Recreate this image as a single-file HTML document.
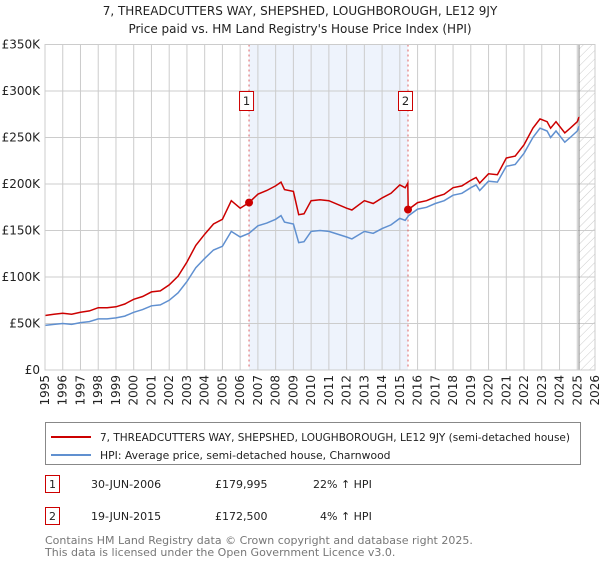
<!DOCTYPE html>
<html><head><meta charset="utf-8"><style>
body{margin:0;background:#fff;font-family:"Liberation Sans","DejaVu Sans",sans-serif;}
svg text{font-family:"DejaVu Sans","Liberation Sans",sans-serif;}
</style></head><body>
<svg id="chart" width="600" height="560" xmlns="http://www.w3.org/2000/svg">
<defs><pattern id="hatch" width="6" height="6" patternUnits="userSpaceOnUse" patternTransform="rotate(45)"><line x1="0" y1="0" x2="0" y2="6" stroke="#ccc" stroke-width="1"/></pattern></defs>
<text x="300" y="15" text-anchor="middle" font-size="12" fill="#222">7, THREADCUTTERS WAY, SHEPSHED, LOUGHBOROUGH, LE12 9JY</text>
<text x="300" y="33" text-anchor="middle" font-size="12" fill="#222">Price paid vs. HM Land Registry's House Price Index (HPI)</text>
<g id="plot"></g>
<g>
<rect x="45.5" y="422.5" width="535" height="42" fill="#fff" stroke="#888"/>
<line x1="51" y1="437" x2="91" y2="437" stroke="#cc0000" stroke-width="2"/>
<text x="100" y="441" font-size="10.8" fill="#222" textLength="470" lengthAdjust="spacingAndGlyphs">7, THREADCUTTERS WAY, SHEPSHED, LOUGHBOROUGH, LE12 9JY (semi-detached house)</text>
<line x1="51" y1="455" x2="91" y2="455" stroke="#6090d0" stroke-width="2"/>
<text x="100" y="459" font-size="10.8" fill="#222">HPI: Average price, semi-detached house, Charnwood</text>
</g>
<g font-size="11" fill="#222">
<rect x="45.5" y="475.5" width="14" height="17" fill="#fff" stroke="#cc0000"/>
<text x="52.5" y="488" text-anchor="middle">1</text>
<text x="91" y="488">30-JUN-2006</text><text x="215" y="488">£179,995</text><text x="313" y="488">22% ↑ HPI</text>
<rect x="45.5" y="507.5" width="14" height="17" fill="#fff" stroke="#cc0000"/>
<text x="52.5" y="520" text-anchor="middle">2</text>
<text x="91" y="520">19-JUN-2015</text><text x="215" y="520">£172,500</text><text x="320" y="520">4% ↑ HPI</text>
</g>
<text x="45" y="544" font-size="11" fill="#777">Contains HM Land Registry data © Crown copyright and database right 2025.</text>
<text x="45" y="556" font-size="11" fill="#777">This data is licensed under the Open Government Licence v3.0.</text>
</svg>
<script>
const hpiYears=[1995,1995.5,1996,1996.5,1997,1997.5,1998,1998.5,1999,1999.5,2000,2000.5,2001,2001.5,2002,2002.5,2003,2003.5,2004,2004.5,2005,2005.5,2006,2006.5,2007,2007.5,2008,2008.3,2008.5,2009,2009.3,2009.6,2010,2010.5,2011,2012,2012.3,2013,2013.5,2014,2014.5,2015,2015.3,2015.5,2016,2016.5,2017,2017.5,2018,2018.5,2019,2019.3,2019.5,2020,2020.5,2021,2021.5,2022,2022.5,2022.9,2023.3,2023.5,2023.8,2024.3,2024.6,2025,2025.1];
const hpiValues=[48,49,50,49,51,52,55,55,56,58,62,65,69,70,75,83,95,110,120,129,133,149,143,147,155,158,162,166,159,157,137,138,149,150,149,143,141,149,147,152,156,163,161,166,173,175,179,182,188,190,196,199,193,203,202,219,221,233,250,260,257,250,257,245,250,257,262];
const redYears=[1995,1995.5,1996,1996.5,1997,1997.5,1998,1998.5,1999,1999.5,2000,2000.5,2001,2001.5,2002,2002.5,2003,2003.5,2004,2004.5,2005,2005.5,2006,2006.5,2007,2007.5,2008,2008.3,2008.5,2009,2009.3,2009.6,2010,2010.5,2011,2012,2012.3,2013,2013.5,2014,2014.5,2015,2015.3,2015.45,2015.47,2016,2016.5,2017,2017.5,2018,2018.5,2019,2019.3,2019.5,2020,2020.5,2021,2021.5,2022,2022.5,2022.9,2023.3,2023.5,2023.8,2024.3,2024.6,2025,2025.1];
const redValues=[58.6,60,61,60,62,63.5,67,67,68,71,76,79,84,85,91.5,101,116,134,146,157,162,182,174,180,189,193,198,202,194,192,167,168,182,183,182,174,172,182,179,185,190,199,196,201,172.5,180,182,186,189,196,198,204,207,201,211,210,228,230,242,260,270,267,260,267,255,260,267,272];
const sales=[{n:"1",year:2006.5,value:179.995},{n:"2",year:2015.46,value:172.5}];
const yTicks=[0,50,100,150,200,250,300,350];
const yTickLabels=["£0","£50K","£100K","£150K","£200K","£250K","£300K","£350K"];
const xTicks=[1995,1996,1997,1998,1999,2000,2001,2002,2003,2004,2005,2006,2007,2008,2009,2010,2011,2012,2013,2014,2015,2016,2017,2018,2019,2020,2021,2022,2023,2024,2025,2026];
const X0=45,X1=595,Y0=370,Y1=44.5;
const xs=y=>X0+(y-1995)/(2026-1995)*(X1-X0);
const ys=v=>Y0-v/350*(Y0-Y1);
const NS="http://www.w3.org/2000/svg";
const g=document.getElementById('plot');
function mk(t,a){const e=document.createElementNS(NS,t);for(const k in a)e.setAttribute(k,a[k]);g.appendChild(e);return e;}
let e=mk('rect',{x:xs(sales[0].year),y:Y1,width:xs(sales[1].year)-xs(sales[0].year),height:Y0-Y1,fill:'#eef3fc'});


e=mk('rect',{x:xs(2025.1),y:Y1,width:X1-xs(2025.1),height:Y0-Y1,fill:'url(#hatch)'});


yTicks.forEach((t,i)=>{
 e=mk('line',{x1:X0,x2:X1,y1:ys(t),y2:ys(t),stroke:'#cccccc'});
 
 
 e=mk('text',{x:X0-5,y:ys(t)+4,'text-anchor':'end','font-size':'12',fill:'#222'});
 e.textContent=yTickLabels[i];
 
 
});
xTicks.forEach(t=>{
 e=mk('line',{x1:xs(t),x2:xs(t),y1:Y1,y2:Y0,stroke:'#cccccc'});
 
 
 e=mk('text',{x:0,y:0,'text-anchor':'end','font-size':'12',fill:'#222',transform:`translate(${xs(t)+4},375) rotate(-90)`});
 e.textContent=String(t);
 
 
});
e=mk('line',{x1:xs(2025.1),x2:xs(2025.1),y1:Y1,y2:Y0,stroke:'#888'});


sales.forEach(s=>{
 e=mk('line',{x1:xs(s.year),x2:xs(s.year),y1:Y1,y2:Y0,stroke:'#e06060','stroke-dasharray':'2,3'});
 
 
});
function path(xa,va,col,name){
 const d=xa.map((y,i)=>(i?'L':'M')+xs(y).toFixed(1)+','+ys(va[i]).toFixed(1)).join('');
 const p=mk('path',{d:d,fill:'none',stroke:col,'stroke-width':'1.5'});
 
 
}
path(hpiYears,hpiValues,'#6090d0','hpi-line');
path(redYears,redValues,'#cc0000','property-price-line');
sales.forEach(s=>{
 e=mk('circle',{cx:xs(s.year),cy:ys(s.value),r:4,fill:'#cc0000'});
 
 
 e=mk('rect',{x:xs(s.year)-9.5,y:91.5,width:14,height:19,fill:'#fff',stroke:'#cc0000'});
 
 
 e=mk('text',{x:xs(s.year)-2.5,y:105,'text-anchor':'middle','font-size':'11.5',fill:'#222'});
 e.textContent=s.n;
 
 
});
e=mk('rect',{x:X0,y:Y1,width:X1-X0,height:Y0-Y1,fill:'none',stroke:'#cccccc'});


</script>
</body></html>
